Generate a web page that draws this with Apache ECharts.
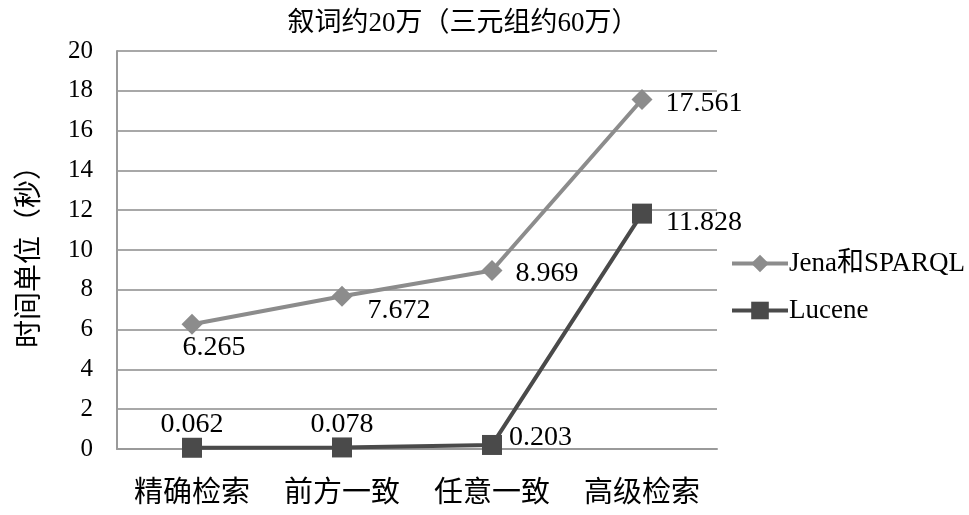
<!DOCTYPE html>
<html><head><meta charset="utf-8">
<script src="https://cdn.jsdelivr.net/npm/echarts@6/dist/echarts.min.js"></script>
<style>html,body{margin:0;padding:0;background:#fff}#c{width:969px;height:515px}</style>
</head><body><div id="c"></div>
<script>
const titleText = '叙词约20万（三元组约60万）';
const yName = '时间单位（秒）';
const categories = ['精确检索', '前方一致', '任意一致', '高级检索'];
const jenaName = 'Jena和SPARQL';
const jenaValues = [6.265, 7.672, 8.969, 17.561];
const luceneName = 'Lucene';
const luceneValues = [0.062, 0.078, 0.203, 11.828];
const yTicks = { min: 0, max: 20, interval: 2 };

const FONT = '"Liberation Serif", "Noto Sans CJK SC", serif';
const chart = echarts.init(document.getElementById('c'));
const lblBase = { show: true, fontFamily: FONT, fontSize: 28, color: '#000', formatter: p => p.value.toFixed(3) };

const jenaLabels = [
  { position: 'bottom', offset: [22, -6] },
  { position: 'right', offset: [10, 14] },
  { position: 'right', offset: [8, 3] },
  { position: 'right', offset: [8, 4] }
];
const luceneLabels = [
  { position: 'top', offset: [0, 6] },
  { position: 'top', offset: [0, 6] },
  { position: 'right', offset: [2, -7] },
  { position: 'right', offset: [9, 9] }
];

chart.setOption({
  animation: false,
  textStyle: { fontFamily: FONT },
  title: { text: titleText, left: 458, textAlign: 'center', top: 5, textStyle: { fontFamily: FONT, fontSize: 27, fontWeight: 'normal', color: '#000' } },
  grid: { left: 117, right: 252, top: 51, bottom: 66 },
  legend: {
    orient: 'vertical', left: 725, top: 245, itemGap: 20, itemWidth: 56, itemHeight: 22,
    lineStyle: { width: 4 },
    textStyle: { fontFamily: FONT, fontSize: 27, color: '#000', padding: [0, 0, 0, -4] },
    data: [jenaName, luceneName]
  },
  xAxis: {
    type: 'category', data: categories, boundaryGap: true,
    axisLine: { lineStyle: { color: '#9a9a9a', width: 2 } },
    axisTick: { show: false },
    axisLabel: { interval: 0, fontFamily: FONT, fontSize: 29, color: '#000', margin: 31 }
  },
  yAxis: {
    type: 'value', min: yTicks.min, max: yTicks.max, interval: yTicks.interval,
    name: yName, nameLocation: 'middle', nameGap: 72, nameRotate: 90,
    nameTextStyle: { fontFamily: FONT, fontSize: 28, color: '#000' },
    axisLine: { show: true, lineStyle: { color: '#9a9a9a', width: 2 } },
    axisTick: { show: false },
    axisLabel: { fontFamily: FONT, fontSize: 25, color: '#000', margin: 24 },
    splitLine: { lineStyle: { color: '#a8a8a8', width: 2 } }
  },
  series: [
    {
      name: jenaName, type: 'line',
      symbol: 'diamond', symbolSize: 21,
      lineStyle: { color: '#8c8c8c', width: 4 },
      itemStyle: { color: '#8c8c8c' },
      label: lblBase,
      data: jenaValues.map((v, i) => ({ value: v, label: jenaLabels[i] }))
    },
    {
      name: luceneName, type: 'line',
      symbol: 'rect', symbolSize: 20,
      lineStyle: { color: '#4a4a4a', width: 4 },
      itemStyle: { color: '#4a4a4a' },
      label: lblBase,
      data: luceneValues.map((v, i) => ({ value: v, label: luceneLabels[i] }))
    }
  ]
});
</script></body></html>
